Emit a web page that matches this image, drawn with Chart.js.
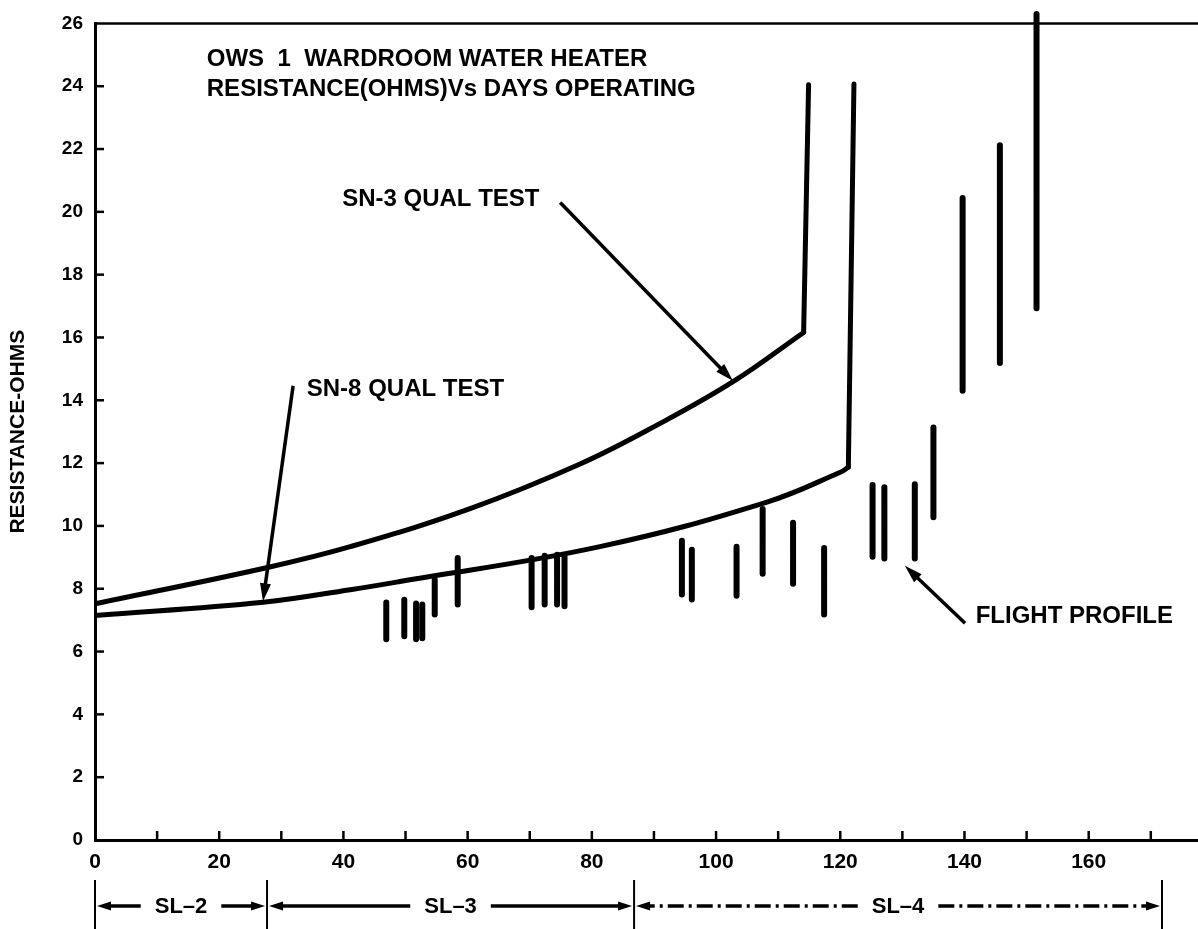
<!DOCTYPE html>
<html><head><meta charset="utf-8">
<script src="https://cdn.jsdelivr.net/npm/chart.js@4/dist/chart.umd.min.js"></script>
<style>html,body{margin:0;padding:0;background:#fff;}#wrap{width:1198px;height:929px;position:relative;}</style>
</head><body><div id="wrap"><canvas id="c" width="1198" height="929"></canvas></div>
<script>
// ---- data ----
const xTickLabels = [0, 20, 40, 60, 80, 100, 120, 140, 160];
const yTickLabels = [0, 2, 4, 6, 8, 10, 12, 14, 16, 18, 20, 22, 24, 26];

// SN-3 qual test curve (days, ohms)
const sn3Days = [0, 27.6, 41.1, 60.4, 78.1, 90.4, 102.8, 114.1];
const sn3Ohms = [7.52, 8.67, 9.34, 10.55, 11.97, 13.2, 14.6, 16.16];
const sn3RiseDays = [114.1, 114.9];
const sn3RiseOhms = [16.16, 24.05];

// SN-8 qual test curve
const sn8Days = [0, 27.1, 41.1, 49.1, 81.3, 108.2, 120.0, 121.3];
const sn8Ohms = [7.15, 7.57, 7.97, 8.23, 9.34, 10.76, 11.71, 11.87];
const sn8RiseDays = [121.3, 122.2];
const sn8RiseOhms = [11.87, 24.07];

// Flight profile ranges
const flightDays = [46.9, 49.8, 51.7, 52.7, 54.7, 58.4, 70.3, 72.4, 74.4, 75.6, 94.5, 96.1, 103.3, 107.5, 112.4, 117.4, 125.2, 127.1, 132.0, 135.0, 139.7, 145.7, 151.6];
const flightLow  = [6.39, 6.49, 6.39, 6.42, 7.18, 7.50, 7.41, 7.50, 7.50, 7.44, 7.82, 7.66, 7.78, 8.48, 8.16, 7.18, 9.02, 8.96, 8.96, 10.28, 14.30, 15.19, 16.93];
const flightHigh = [7.56, 7.65, 7.53, 7.50, 8.29, 8.98, 8.98, 9.05, 9.08, 9.02, 9.53, 9.24, 9.34, 10.54, 10.10, 9.30, 11.30, 11.23, 11.33, 13.13, 20.44, 22.12, 26.30];

// Skylab mission boundaries (days)
const missionNames = ['SL\u20132', 'SL\u20133', 'SL\u20134'];
const missionBounds = [0, 27.7, 86.8, 171.8];

// ---- build datasets ----
const pts = (xs, ys) => xs.map((x, i) => ({x: x, y: ys[i]}));
const flightPts = [];
flightDays.forEach((d, i) => {
  flightPts.push({x: d, y: flightLow[i]}, {x: d, y: flightHigh[i]}, {x: d, y: null});
});

const FONT = "'Liberation Sans', Arial, sans-serif";
const NARROW = "'Liberation Sans Narrow', 'Liberation Sans', Arial, sans-serif";

const lineStyle = {borderColor: '#000', borderWidth: 5, pointRadius: 0, fill: false, borderCapStyle: 'round', borderJoinStyle: 'round'};

function arrow(ctx, x1, y1, x2, y2, head, half) {
  const a = Math.atan2(y2 - y1, x2 - x1);
  ctx.beginPath();
  ctx.moveTo(x1, y1);
  ctx.lineTo(x2 - Math.cos(a) * head * 0.8, y2 - Math.sin(a) * head * 0.8);
  ctx.stroke();
  ctx.beginPath();
  ctx.moveTo(x2, y2);
  ctx.lineTo(x2 - Math.cos(a) * head - Math.sin(a) * half, y2 - Math.sin(a) * head + Math.cos(a) * half);
  ctx.lineTo(x2 - Math.cos(a) * head + Math.sin(a) * half, y2 - Math.sin(a) * head - Math.cos(a) * half);
  ctx.closePath();
  ctx.fill();
}

const decor = {
  id: 'decor',
  afterDraw(chart) {
    const ctx = chart.ctx, xs = chart.scales.x, ys = chart.scales.y, ca = chart.chartArea;
    const X = v => xs.getPixelForValue(v), Y = v => ys.getPixelForValue(v);
    ctx.save();
    ctx.strokeStyle = '#000'; ctx.fillStyle = '#000'; ctx.lineCap = 'butt';
    // top frame line
    ctx.lineWidth = 2.5;
    ctx.beginPath(); ctx.moveTo(ca.left, Y(26)); ctx.lineTo(ca.right, Y(26)); ctx.stroke();
    // inward ticks
    ctx.lineWidth = 2.5;
    for (let d = 10; d <= 170; d += 10) {
      ctx.beginPath(); ctx.moveTo(X(d), ca.bottom); ctx.lineTo(X(d), ca.bottom - 9); ctx.stroke();
    }
    for (let v = 2; v <= 24; v += 2) {
      ctx.beginPath(); ctx.moveTo(ca.left, Y(v)); ctx.lineTo(ca.left + 9, Y(v)); ctx.stroke();
    }
    // title
    ctx.font = 'bold 24px ' + FONT;
    ctx.textBaseline = 'middle'; ctx.textAlign = 'left';
    ctx.fillText('OWS  1  WARDROOM WATER HEATER', X(18), Y(24.85));
    ctx.fillText('RESISTANCE(OHMS)Vs DAYS OPERATING', X(18), Y(23.9));
    // labels
    ctx.font = 'bold 24px ' + FONT;
    ctx.fillText('SN-3 QUAL TEST', X(39.8), Y(20.4));
    ctx.fillText('SN-8 QUAL TEST', X(34.1), Y(14.34));
    ctx.fillText('FLIGHT PROFILE', X(141.8), Y(7.12));
    ctx.lineWidth = 3.5;
    arrow(ctx, X(74.9), Y(20.3), X(102.7), Y(14.62), 18, 5.5);
    arrow(ctx, X(31.9), Y(14.46), X(27.05), Y(7.6), 18, 5.5);
    arrow(ctx, X(140.1), Y(6.9), X(130.4), Y(8.73), 18, 5.5);
    // mission bar under the axis
    const rowY = ca.bottom + 66;
    ctx.lineWidth = 2;
    missionBounds.forEach(b => {
      ctx.beginPath(); ctx.moveTo(X(b), ca.bottom + 40); ctx.lineTo(X(b), chart.height); ctx.stroke();
    });
    ctx.font = 'bold 22px ' + NARROW;
    ctx.textAlign = 'center';
    for (let i = 0; i < missionNames.length; i++) {
      const a = X(missionBounds[i]) + 2, b = X(missionBounds[i + 1]) - 2;
      const mid = (a + b) / 2;
      const tw = ctx.measureText(missionNames[i]).width;
      const gap = tw / 2 + 14;
      ctx.fillText(missionNames[i], mid, rowY + 1);
      ctx.lineWidth = 3.5;
      if (i === 2) ctx.setLineDash([16, 5, 3, 5]); else ctx.setLineDash([]);
      arrow(ctx, mid - gap, rowY, a, rowY, 14, 4.5);
      arrow(ctx, mid + gap, rowY, b, rowY, 14, 4.5);
      ctx.setLineDash([]);
    }
    ctx.restore();
  }
};

new Chart(document.getElementById('c'), {
  type: 'line',
  data: {
    datasets: [
      Object.assign({label: 'SN-3 QUAL TEST', data: pts(sn3Days, sn3Ohms), tension: 0.4}, lineStyle),
      Object.assign({label: 'SN-3 rise', data: pts(sn3RiseDays, sn3RiseOhms), tension: 0}, lineStyle),
      Object.assign({label: 'SN-8 QUAL TEST', data: pts(sn8Days, sn8Ohms), tension: 0.4}, lineStyle),
      Object.assign({label: 'SN-8 rise', data: pts(sn8RiseDays, sn8RiseOhms), tension: 0}, lineStyle),
      Object.assign({}, lineStyle, {label: 'FLIGHT PROFILE', data: flightPts, spanGaps: false, tension: 0, borderWidth: 6, clip: false})
    ]
  },
  options: {
    responsive: false, animation: false, devicePixelRatio: 1,
    layout: {padding: {top: 18, right: 0, left: 0, bottom: 0}},
    plugins: {legend: {display: false}, tooltip: {enabled: false}},
    scales: {
      x: {
        type: 'linear', min: 0, max: 177.6,
        grid: {display: false, drawTicks: false},
        border: {display: true, width: 3, color: '#000'},
        afterBuildTicks: s => { s.ticks = xTickLabels.map(v => ({value: v})); },
        ticks: {autoSkip: false, maxRotation: 0, color: '#000', padding: 10,
                font: {family: NARROW, size: 21, weight: 'bold'}},
        afterFit: s => { s.height = 89; }
      },
      y: {
        min: 0, max: 26,
        grid: {display: false, drawTicks: false},
        border: {display: true, width: 3, color: '#000'},
        afterBuildTicks: s => { s.ticks = yTickLabels.map(v => ({value: v})); },
        ticks: {autoSkip: false, color: '#000', padding: 12,
                font: {family: FONT, size: 19, weight: 'bold'}},
        title: {display: true, text: 'RESISTANCE-OHMS', color: '#000', padding: {top: 6, bottom: 0},
                font: {family: FONT, size: 21, weight: 'bold'}},
        afterFit: s => { s.width = 95; }
      }
    }
  },
  plugins: [decor]
});
</script></body></html>
